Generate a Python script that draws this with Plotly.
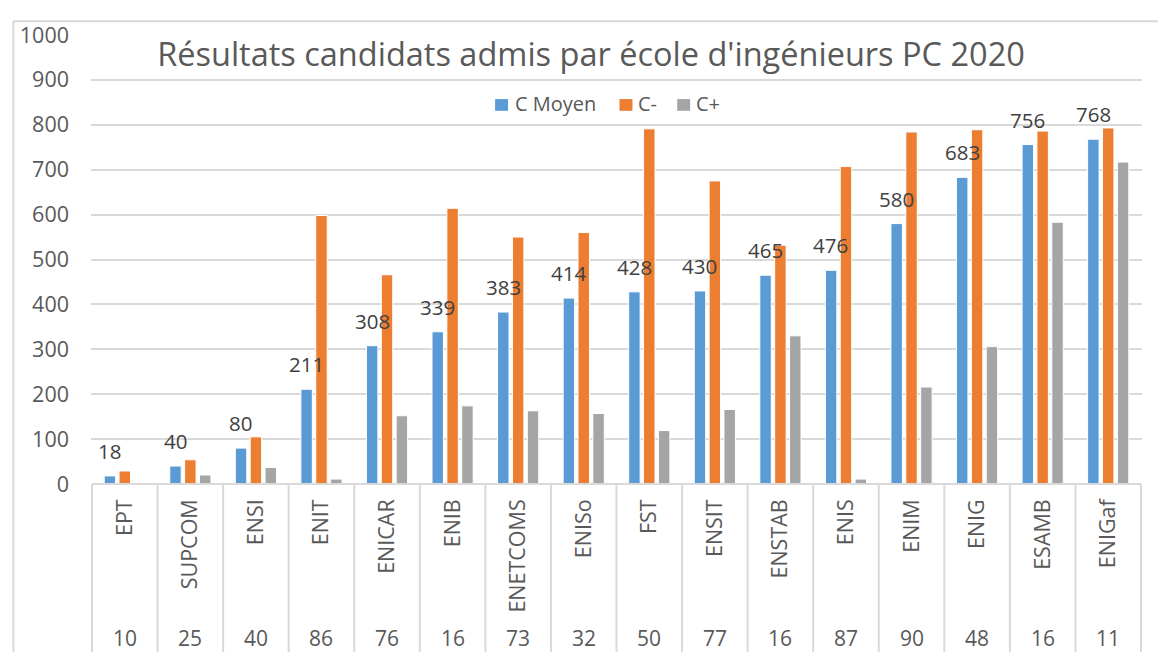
import plotly.graph_objects as go

categories = ["EPT", "SUPCOM", "ENSI", "ENIT", "ENICAR", "ENIB", "ENETCOMS", "ENISo",
              "FST", "ENSIT", "ENSTAB", "ENIS", "ENIM", "ENIG", "ESAMB", "ENIGaf"]
c_moyen = [18, 40, 80, 211, 308, 339, 383, 414, 428, 430, 465, 476, 580, 683, 756, 768]
c_moins = [29, 54, 105, 598, 466, 614, 550, 560, 791, 675, 532, 707, 784, 789, 786, 793]
c_plus = [0, 20, 37, 11, 152, 174, 163, 157, 119, 166, 330, 11, 216, 306, 583, 717]
second_row = ["10", "25", "40", "86", "76", "16", "73", "32", "50", "77", "16", "87", "90", "48", "16", "11"]
y_ticks = [0, 100, 200, 300, 400, 500, 600, 700, 800, 900, 1000]
series_names = ["C Moyen", "C-", "C+"]
series_colors = ["#5B9BD5", "#ED7D31", "#A5A5A5"]

# page body has an 8px margin: figure pixel = viewport pixel - 8
OFF = 8
W, H = 1166, 652
L, T = 86 - OFF, 25 - OFF
PW, PH = 1056, 459
R = W - L - PW
B = H - T - PH

def px_x(vx):
    return (vx - OFF - L) / PW

def px_y(vy):
    return (T + PH - (vy - OFF)) / PH

FONT = "Open Sans"
GRID = "#d9d9d9"
TXT = "#595959"

fig = go.Figure()
for name, vals, col in zip(series_names, [c_moyen, c_moins, c_plus], series_colors):
    fig.add_trace(go.Bar(name=name, x=categories, y=vals, showlegend=False,
                         marker=dict(color=col, line=dict(color="white", width=1))))

annotations = []
for cat, v in zip(categories, c_moyen):
    annotations.append(dict(x=cat, y=v, xref="x", yref="y", text=str(v), showarrow=False,
                            xshift=-15, yshift=25, yanchor="middle",
                            font=dict(family=FONT, size=20.5, color="#404040")))
for cat, s in zip(categories, second_row):
    annotations.append(dict(x=cat, y=px_y(641), xref="x", yref="paper", text=s, showarrow=False,
                            yanchor="middle", font=dict(family=FONT, size=21, color=TXT)))

shapes = []
for k in range(len(categories) + 1):
    shapes.append(dict(type="line", xref="x", yref="paper", x0=k - 0.5, x1=k - 0.5,
                       y0=0, y1=px_y(665), line=dict(color=GRID, width=2)))
shapes.append(dict(type="line", xref="x", yref="paper", x0=-0.5, x1=len(categories) - 0.5,
                   y0=0, y1=0, line=dict(color=GRID, width=2)))
# outer chart frame
shapes.append(dict(type="line", xref="paper", yref="paper", x0=px_x(8), x1=px_x(8),
                   y0=px_y(11), y1=px_y(665), line=dict(color=GRID, width=2)))
shapes.append(dict(type="line", xref="paper", yref="paper", x0=px_x(8), x1=px_x(1180),
                   y0=px_y(11), y1=px_y(11), line=dict(color=GRID, width=2)))

# legend (drawn manually to match the compact Excel legend)
legend_sq_x = [492, 617, 675]
legend_tx_x = [510, 634, 692]
for name, col, sx, tx in zip(series_names, series_colors, legend_sq_x, legend_tx_x):
    shapes.append(dict(type="rect", xref="paper", yref="paper", x0=px_x(sx), x1=px_x(sx + 13),
                       y0=px_y(102.5), y1=px_y(90.5), fillcolor=col, line=dict(width=0)))
    annotations.append(dict(x=px_x(tx), y=px_y(95), xref="paper", yref="paper", text=name,
                            showarrow=False, xanchor="left", yanchor="middle",
                            font=dict(family=FONT, size=20, color=TXT)))

fig.update_layout(
    width=W, height=H,
    margin=dict(l=L, r=R, t=T, b=B),
    paper_bgcolor="white", plot_bgcolor="white",
    barmode="group", bargap=0.32, bargroupgap=0.23,
    showlegend=False,
    title=dict(text="Résultats candidats admis par école d'ingénieurs PC 2020",
               x=(591 - OFF) / W, xanchor="center",
               y=1 - (55 - OFF) / H, yanchor="middle",
               font=dict(family=FONT, size=32.5, color=TXT)),
    font=dict(family=FONT, color=TXT),
    annotations=annotations,
    shapes=shapes,
    xaxis=dict(tickangle=-90, tickfont=dict(family=FONT, size=21.5, color=TXT),
               showgrid=False, showline=False, ticks="", ticklabelstandoff=10),
    yaxis=dict(range=[0, 1000], tickvals=y_ticks, tickfont=dict(family=FONT, size=21.5, color=TXT),
               showgrid=True, gridcolor=GRID, gridwidth=2, zeroline=False, showline=False,
               ticks="", ticklabelstandoff=21),
)

fig.write_html("out.html")
